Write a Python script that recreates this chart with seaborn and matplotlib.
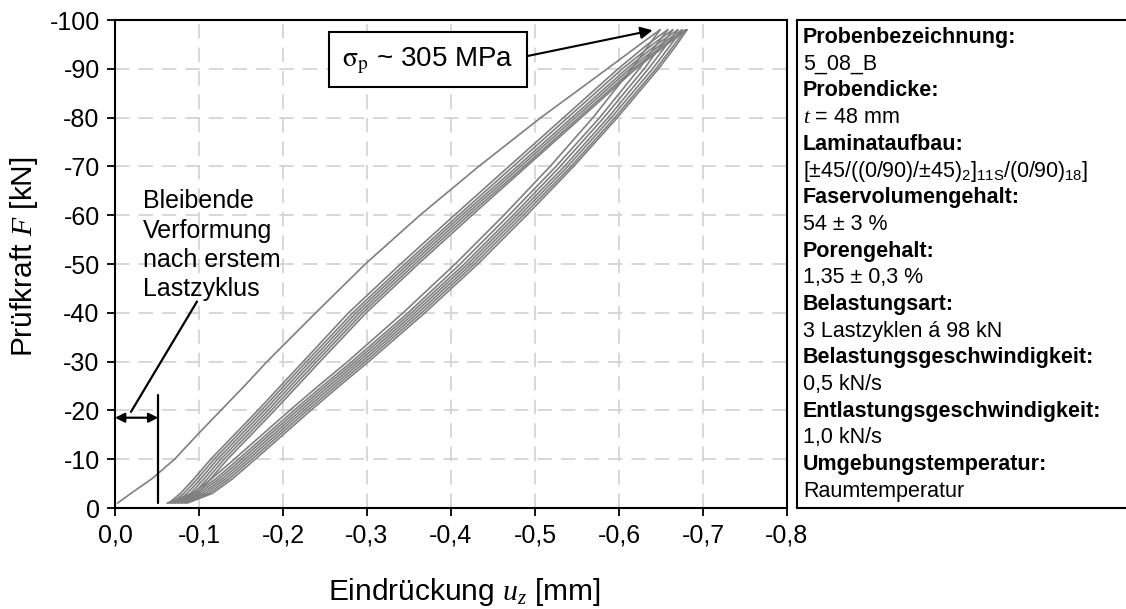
import matplotlib
matplotlib.use("Agg")
import matplotlib.pyplot as plt
from matplotlib.patches import Rectangle
import seaborn as sns
import pandas as pd

# force levels (kN) at which the displacement of each curve was read
force_levels = [-1, -3, -6, -10, -15, -20, -25, -30, -40, -50, -60, -70, -80, -90, -95, -98]

# first loading
load_1 = [-0.003, -0.019, -0.044, -0.071, -0.098, -0.126, -0.154, -0.181, -0.239, -0.298,
          -0.363, -0.433, -0.507, -0.586, -0.625, -0.649]

# reloading branches (upper bundle)
reload_2 = [-0.064, -0.078, -0.094, -0.114, -0.142, -0.170, -0.197, -0.224, -0.278, -0.340,
            -0.404, -0.469, -0.534, -0.599, -0.634, -0.658]
reload_3 = [-0.068, -0.082, -0.098, -0.118, -0.146, -0.174, -0.201, -0.228, -0.283, -0.345,
            -0.409, -0.474, -0.539, -0.604, -0.640, -0.664]
reload_4 = [-0.072, -0.086, -0.102, -0.122, -0.150, -0.178, -0.205, -0.232, -0.287, -0.349,
            -0.413, -0.479, -0.544, -0.609, -0.645, -0.670]
reload_5 = [-0.076, -0.090, -0.106, -0.126, -0.154, -0.182, -0.209, -0.236, -0.291, -0.353,
            -0.417, -0.483, -0.548, -0.613, -0.650, -0.675]
reload_6 = [-0.080, -0.094, -0.110, -0.130, -0.158, -0.186, -0.213, -0.240, -0.295, -0.357,
            -0.421, -0.487, -0.552, -0.617, -0.654, -0.679]
reload_7 = [-0.084, -0.098, -0.114, -0.134, -0.162, -0.190, -0.217, -0.244, -0.299, -0.361,
            -0.425, -0.490, -0.555, -0.620, -0.657, -0.681]

# unloading branches (lower bundle)
unload_1 = [-0.062, -0.092, -0.115, -0.142, -0.175, -0.208, -0.242, -0.277, -0.343, -0.405,
            -0.463, -0.518, -0.569, -0.615, -0.636, -0.649]
unload_2 = [-0.066, -0.096, -0.120, -0.147, -0.180, -0.213, -0.247, -0.282, -0.349, -0.411,
            -0.469, -0.525, -0.577, -0.624, -0.645, -0.658]
unload_3 = [-0.070, -0.100, -0.124, -0.151, -0.184, -0.217, -0.251, -0.286, -0.353, -0.416,
            -0.474, -0.530, -0.582, -0.630, -0.651, -0.664]
unload_4 = [-0.074, -0.104, -0.128, -0.155, -0.188, -0.221, -0.255, -0.290, -0.357, -0.420,
            -0.478, -0.535, -0.587, -0.635, -0.657, -0.670]
unload_5 = [-0.078, -0.108, -0.132, -0.159, -0.192, -0.225, -0.259, -0.294, -0.361, -0.424,
            -0.482, -0.539, -0.591, -0.640, -0.662, -0.675]
unload_6 = [-0.082, -0.112, -0.136, -0.163, -0.196, -0.229, -0.263, -0.298, -0.365, -0.428,
            -0.486, -0.543, -0.595, -0.644, -0.666, -0.679]
unload_7 = [-0.086, -0.116, -0.140, -0.167, -0.200, -0.233, -0.267, -0.302, -0.369, -0.432,
            -0.490, -0.546, -0.598, -0.647, -0.669, -0.681]

curves = {"L1": load_1,
          "R2": reload_2, "R3": reload_3, "R4": reload_4,
          "R5": reload_5, "R6": reload_6, "R7": reload_7,
          "U1": unload_1, "U2": unload_2, "U3": unload_3, "U4": unload_4,
          "U5": unload_5, "U6": unload_6, "U7": unload_7}

x_ticks = [0.0, -0.1, -0.2, -0.3, -0.4, -0.5, -0.6, -0.7, -0.8]
y_ticks = [0, -10, -20, -30, -40, -50, -60, -70, -80, -90, -100]

info_lines = [
    ("Probenbezeichnung:", True),
    ("5_08_B", False),
    ("Probendicke:", True),
    ("$t$ = 48 mm", False),
    ("Laminataufbau:", True),
    (r"[±45/((0/90)/±45)$_\mathrm{2}$]$_\mathrm{11S}$/(0/90)$_\mathrm{18}$]", False),
    ("Faservolumengehalt:", True),
    ("54 ± 3 %", False),
    ("Porengehalt:", True),
    ("1,35 ± 0,3 %", False),
    ("Belastungsart:", True),
    ("3 Lastzyklen á 98 kN", False),
    ("Belastungsgeschwindigkeit:", True),
    ("0,5 kN/s", False),
    ("Entlastungsgeschwindigkeit:", True),
    ("1,0 kN/s", False),
    ("Umgebungstemperatur:", True),
    ("Raumtemperatur", False),
]

rows = []
for name, us in curves.items():
    for u, f in zip(us, force_levels):
        rows.append({"u": u, "F": f, "curve": name})
df = pd.DataFrame(rows)

sns.set_style("ticks")
plt.rcParams["font.family"] = ["Liberation Sans", "DejaVu Sans"]
plt.rcParams["axes.unicode_minus"] = False
plt.rcParams["text.color"] = "black"
plt.rcParams["axes.labelcolor"] = "black"
plt.rcParams["mathtext.fontset"] = "custom"
plt.rcParams["mathtext.rm"] = "Liberation Sans"
plt.rcParams["mathtext.it"] = "Liberation Serif:italic"
plt.rcParams["mathtext.bf"] = "Liberation Sans:bold"

W, H = 1126, 609
fig = plt.figure(figsize=(W / 100, H / 100), dpi=100)
ax = fig.add_axes([115 / W, 1 - 508 / H, (787 - 115) / W, (508 - 20) / H])

sns.lineplot(data=df, x="u", y="F", units="curve", estimator=None, sort=False,
             color="#7f7f7f", lw=1.2, ax=ax, legend=False)

ax.set_xlim(0, -0.8)
ax.set_ylim(0, -100)
ax.set_xticks(x_ticks)
ax.set_xticklabels([("%.1f" % v).replace(".", ",").replace("-0,0", "0,0") for v in x_ticks])
ax.set_yticks(y_ticks)
ax.set_yticklabels([str(v) for v in y_ticks])
ax.tick_params(direction="out", length=6, width=1.3, labelsize=18, colors="black", pad=5)
ax.grid(True, ls=(0, (8, 5)), color="#d4d4d4", lw=1.3)
for s in ax.spines.values():
    s.set_linewidth(1.5)
    s.set_color("black")

ax.set_xlabel("Eindrückung $u_z$ [mm]", fontsize=21.5)
ax.set_ylabel("Prüfkraft $F$ [kN]", fontsize=21.5)
ax.xaxis.set_label_coords(0.52, -0.14)
ax.yaxis.set_label_coords(-0.112, 0.515)

# sigma box and arrow
ax.add_patch(Rectangle((-0.2548, -86.2), -0.2357, -11.3, fc="white", ec="black",
                       lw=1.5, zorder=5))
ax.text(-0.3726, -91.6, r"$\mathrm{\sigma_p}$ ~ 305 MPa", fontsize=20,
        ha="center", va="center", math_fontfamily="stix", zorder=6)
ax.annotate("", xy=(-0.640, -97.9), xytext=(-0.4905, -92.6),
            arrowprops=dict(arrowstyle="-|>", color="black", lw=1.5,
                            mutation_scale=18, shrinkA=0, shrinkB=0), zorder=6)

# permanent deformation note
ax.text(-0.0333, -65.3, "Bleibende\nVerformung\nnach erstem\nLastzyklus",
        fontsize=18, ha="left", va="top", linespacing=1.28)
ax.annotate("", xy=(0.0, -18.5), xytext=(-0.0515, -18.5),
            arrowprops=dict(arrowstyle="<|-|>", color="black", lw=1.6,
                            mutation_scale=14, shrinkA=0, shrinkB=0))
ax.plot([-0.0515, -0.0515], [-1.0, -23.2], color="black", lw=1.6)
ax.plot([-0.019, -0.0976], [-19.7, -42.3], color="black", lw=1.6)

# info box at the right
fig.patches.append(Rectangle((797 / W, 1 - 508 / H), 0.5, 488 / H,
                             transform=fig.transFigure, fc="white", ec="black",
                             lw=1.5))
for i, (txt, bold) in enumerate(info_lines):
    y = 43 + 26.7 * i
    fig.text(803 / W, 1 - y / H, txt, fontsize=15.5, va="baseline", ha="left",
             fontweight="bold" if bold else "normal")

fig.savefig("out.png", dpi=100)
